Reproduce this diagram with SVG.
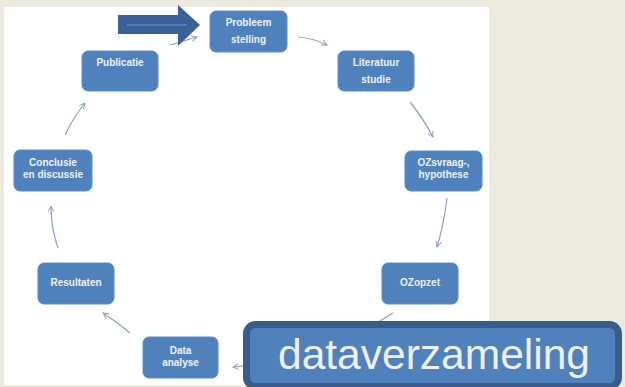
<svg xmlns="http://www.w3.org/2000/svg" width="625" height="387" viewBox="0 0 625 387">
<defs>
<style>
.node rect{fill:#4F81BD;stroke:#5B8CC8;stroke-width:1}
.node text{fill:#EEF2F8;font-family:"Liberation Sans",Arial,sans-serif;font-size:10px;font-weight:bold;text-anchor:middle}
.conn path{fill:none;stroke:#8BA0C0;stroke-width:1.2;marker-end:url(#ah)}
</style>
<marker id="ah" viewBox="0 0 10 10" refX="9" refY="5" markerWidth="7" markerHeight="7" orient="auto" markerUnits="userSpaceOnUse">
<path d="M1,1 L9,5 L1,9" fill="none" stroke="#8BA0C0" stroke-width="1.4"/>
</marker>
</defs>
<rect x="0" y="0" width="625" height="387" fill="#ECE9DF"/>
<rect x="4" y="7" width="485" height="378" fill="#FFFFFF"/>
<g id="connectors" class="conn">
<path d="M170,45 L197,37"/>
<path d="M298,37 Q313,38 327,45"/>
<path d="M410,102 Q423,118 433,137"/>
<path d="M447,198 Q444,224 437,247"/>
<path d="M393,313 Q320,360 233,367"/>
<path d="M130,333 Q117,322 103,313"/>
<path d="M58,248 Q51,228 51,206"/>
<path d="M65,135 Q73,118 85,103"/>
</g>
<g id="probleem" class="node"><rect x="210" y="11" width="77" height="41" rx="6"/><text x="248.5" y="26">Probleem</text><text x="248.5" y="43">stelling</text></g>
<g id="literatuur" class="node"><rect x="338" y="51" width="76" height="40" rx="6"/><text x="376" y="66">Literatuur</text><text x="376" y="83">studie</text></g>
<g id="ozsvraag" class="node"><rect x="405" y="151" width="77" height="40" rx="6"/><text x="443.5" y="166">OZsvraag-,</text><text x="443.5" y="178">hypothese</text></g>
<g id="ozopzet" class="node"><rect x="382" y="263" width="76" height="41" rx="6"/><text x="420" y="286">OZopzet</text></g>
<g id="data-analyse" class="node"><rect x="143" y="337" width="75" height="41" rx="6"/><text x="180.5" y="354">Data</text><text x="180.5" y="366">analyse</text></g>
<g id="resultaten" class="node"><rect x="38" y="263" width="76" height="41" rx="6"/><text x="76" y="286">Resultaten</text></g>
<g id="conclusie" class="node"><rect x="14" y="150" width="78" height="41" rx="6"/><text x="53" y="166">Conclusie</text><text x="53" y="178">en discussie</text></g>
<g id="publicatie" class="node"><rect x="82" y="51" width="76" height="40" rx="6"/><text x="120" y="66">Publicatie</text></g>
<g id="pijl">
<path d="M118,15 L178,15 L178,5 L200,25 L178,46 L178,34 L118,34 Z" fill="#3B6097"/>
<line x1="127" y1="25" x2="187" y2="25" stroke="#5F86BC" stroke-width="1.5"/>
</g>
<g id="dataverzameling">
<rect x="246.5" y="324.5" width="372" height="62" rx="9" fill="#4F81BD" stroke="#385D8A" stroke-width="7"/>
<text x="434" y="369" fill="#F0F0F0" font-family="'Liberation Sans',Arial,sans-serif" font-size="42" text-anchor="middle" textLength="312" lengthAdjust="spacingAndGlyphs">dataverzameling</text>
</g>
</svg>
